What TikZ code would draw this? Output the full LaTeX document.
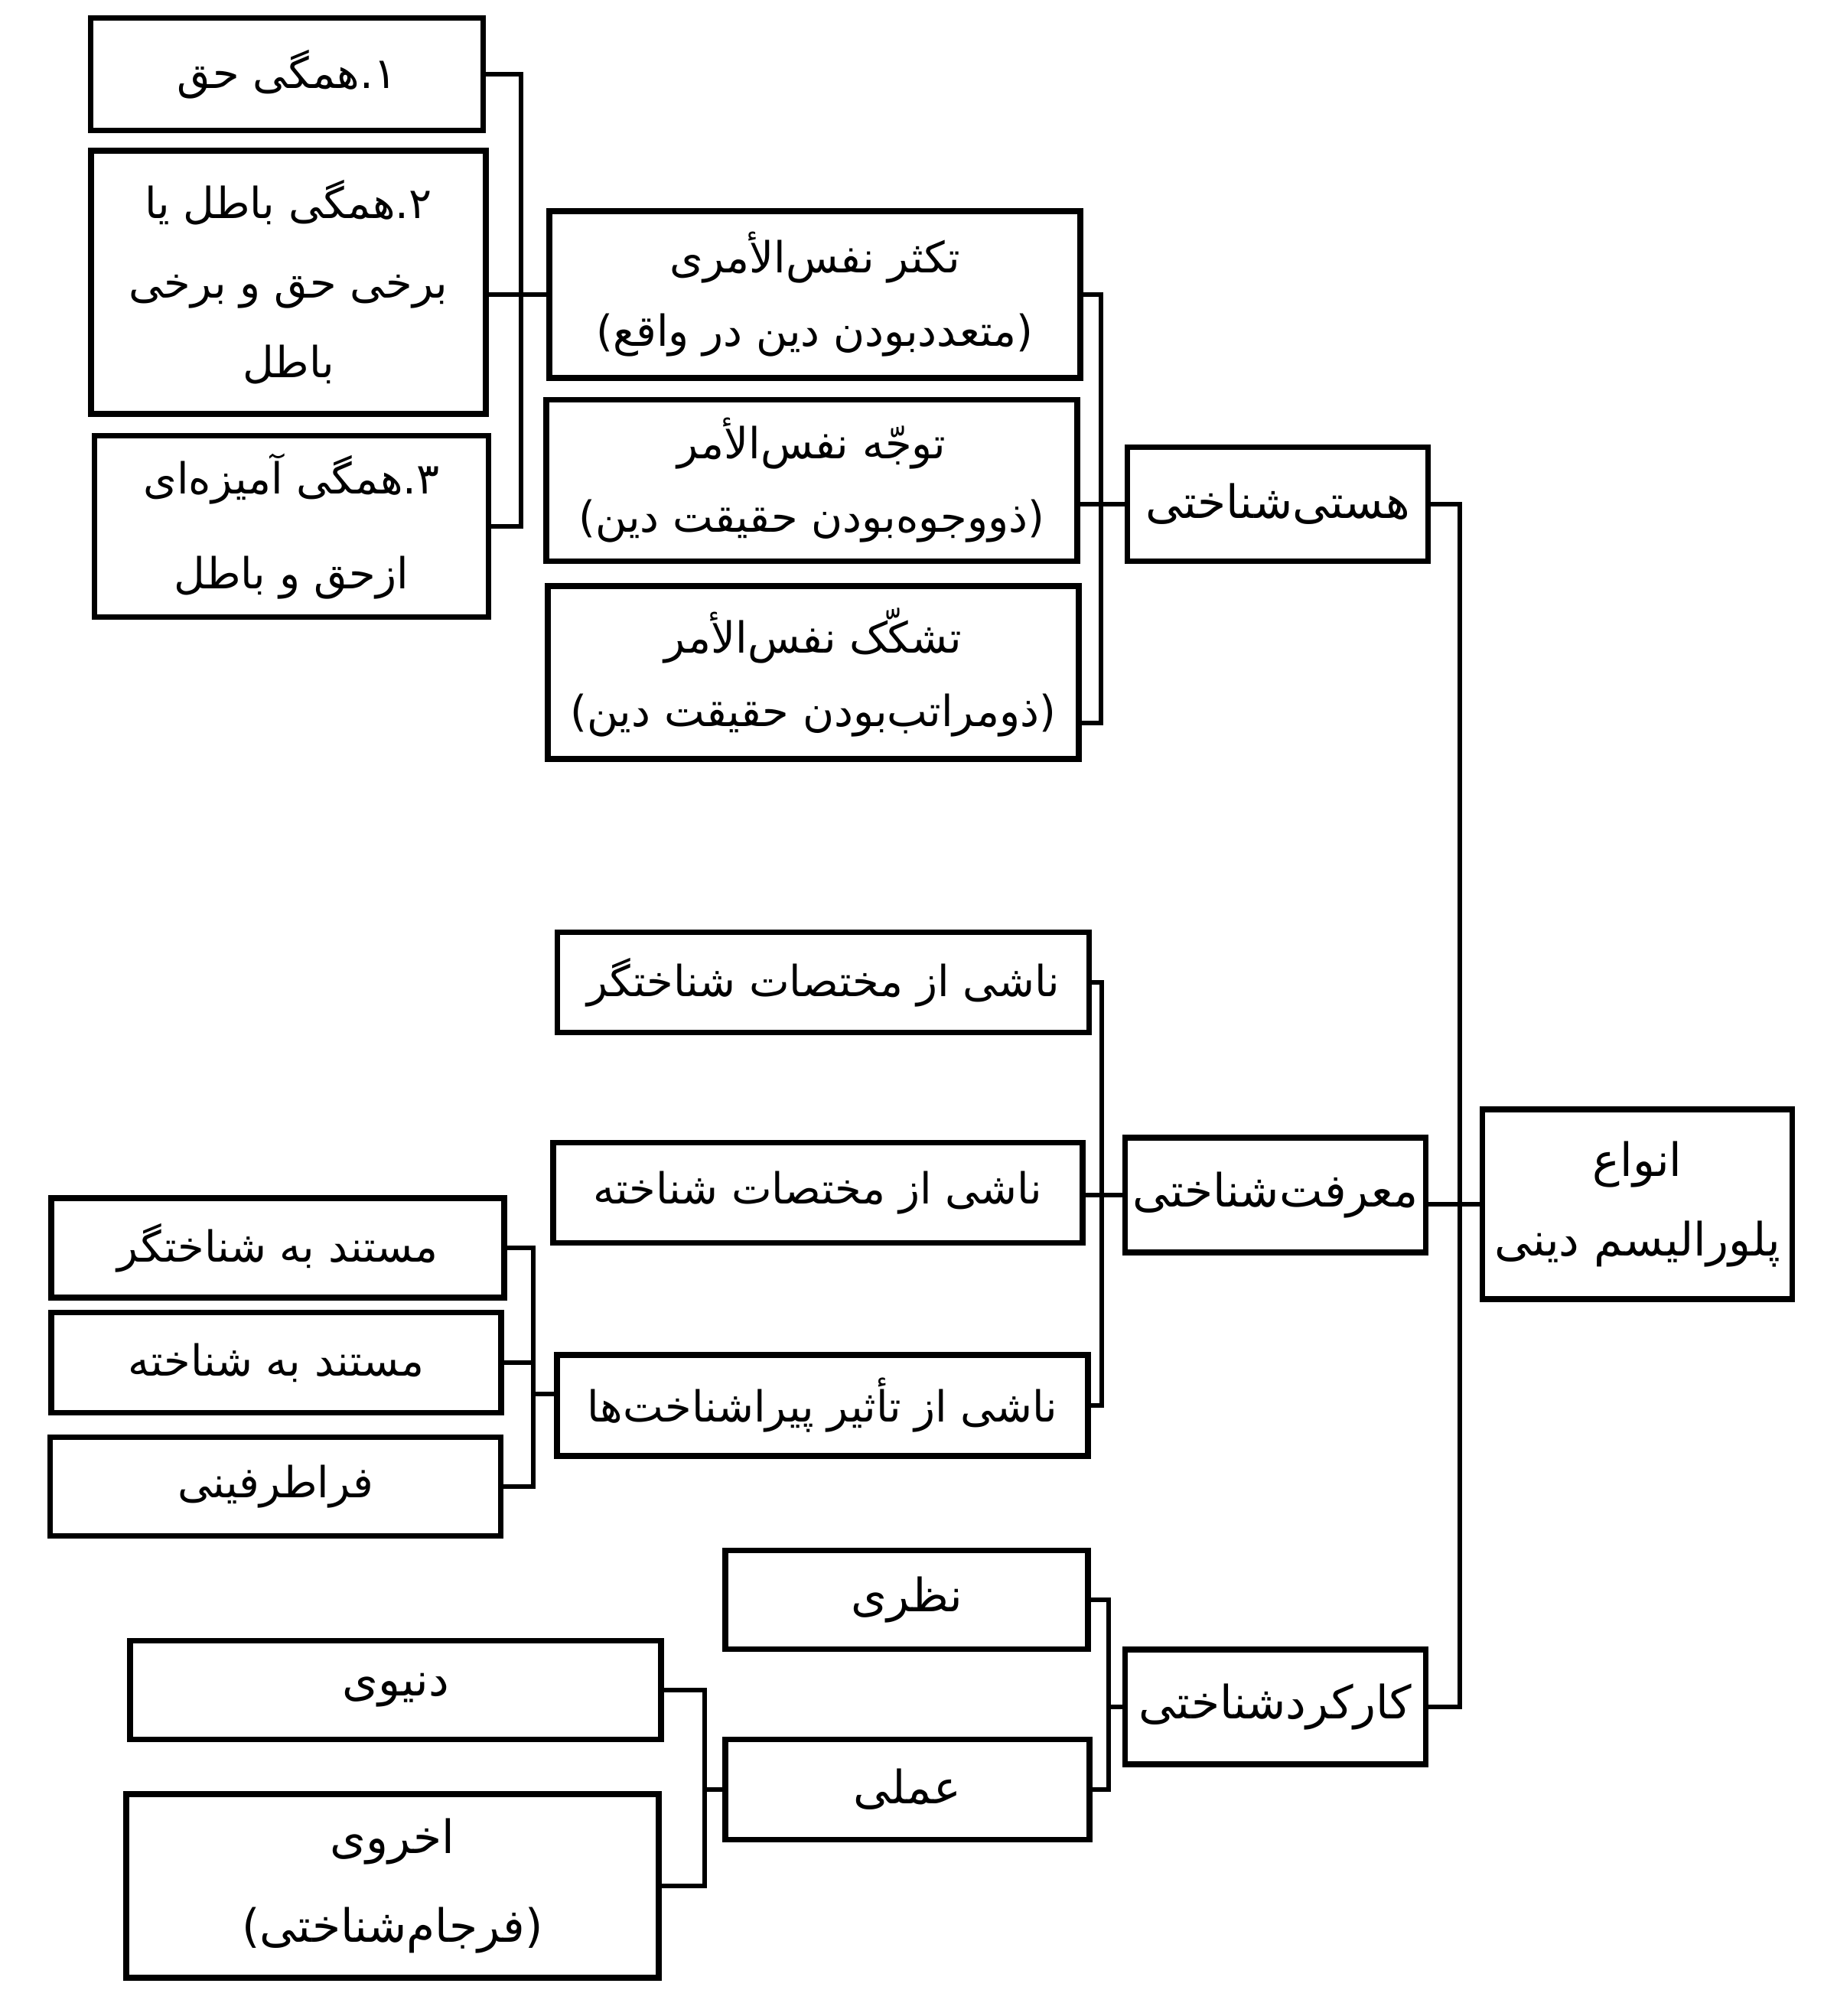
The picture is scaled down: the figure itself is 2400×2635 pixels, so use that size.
\documentclass[tikz,border=0pt]{standalone}
\usepackage{fontspec}
\usetikzlibrary{calc}
\TeXXeTstate=1
\newfontfamily\fa[Script=Arabic]{DejaVu Sans}
\newcommand{\RL}[1]{\beginR #1\endR}
\newcommand{\fs}[2]{\fa\fontsize{#1}{#2}\selectfont}
\newcommand{\num}[1]{\hbox{#1}\hbox{.}}
\newcommand{\pq}[1]{\hbox{(}#1\hbox{)}}
\begin{document}
\begin{tikzpicture}[x=0.25pt,y=-0.25pt,
  box/.style={draw,line width=1.8pt,inner sep=0pt,align=center,font=\fs{15}{26}},
  sbox/.style={box,font=\fs{14}{26}},
  conn/.style={line width=1.7pt}]
\useasboundingbox[fill=white] (0,0) rectangle (2400,2635);
% top-left column
\node[sbox,minimum width=513*0.25pt,minimum height=147*0.25pt] (A1) at (375,97) {\RL{\num{۱}همگی حق}};
\node[sbox,minimum width=516*0.25pt,minimum height=344*0.25pt] (A2) at (377,369) {\RL{\num{۲}همگی باطل یا}\\\RL{برخی حق و برخی}\\\RL{باطل}};
\node[sbox,minimum width=515*0.25pt,minimum height=237*0.25pt,font=\fs{14}{31}] (A3) at (381,688) {\RL{\num{۳}همگی آمیزه^^^^200cای}\\\RL{ازحق و باطل}};
% top middle column
\node[sbox,minimum width=694*0.25pt,minimum height=218*0.25pt,font=\fs{14}{24}] (B1) at (1065,385) {\RL{تکثر نفس^^^^200cالأمری}\\\RL{\pq{متعددبودن دین در واقع}}};
\node[sbox,minimum width=694*0.25pt,minimum height=211*0.25pt,font=\fs{14}{24}] (B2) at (1061,628) {\RL{توجّه نفس^^^^200cالأمر}\\\RL{\pq{ذووجوه^^^^200cبودن حقیقت دین}}};
\node[sbox,minimum width=694*0.25pt,minimum height=226*0.25pt,font=\fs{14}{24}] (B3) at (1063,879) {\RL{تشکّک نفس^^^^200cالأمر}\\\RL{\pq{ذومراتب^^^^200cبودن حقیقت دین}}};
% main categories
\node[box,minimum width=393*0.25pt,minimum height=149*0.25pt] (C1) at (1670,659) {\RL{هستی^^^^200cشناختی}};
\node[box,minimum width=393*0.25pt,minimum height=150*0.25pt] (C2) at (1667,1562) {\RL{معرفت^^^^200cشناختی}};
\node[box,minimum width=393*0.25pt,minimum height=150*0.25pt] (C3) at (1667,2231) {\RL{کارکردشناختی}};
\node[box,minimum width=405*0.25pt,minimum height=248*0.25pt] (R) at (2140,1574) {\RL{انواع}\\\RL{پلورالیسم دینی}};
% middle column
\node[sbox,minimum width=695*0.25pt,minimum height=131*0.25pt] (M1) at (1076,1284) {\RL{ناشی از مختصات شناختگر}};
\node[sbox,minimum width=692*0.25pt,minimum height=131*0.25pt] (M2) at (1069,1559) {\RL{ناشی از مختصات شناخته}};
\node[sbox,minimum width=694*0.25pt,minimum height=132*0.25pt] (M3) at (1075,1837) {\RL{ناشی از تأثیر پیراشناخت^^^^200cها}};
% left middle column
\node[sbox,minimum width=592*0.25pt,minimum height=130*0.25pt] (L1) at (363,1631) {\RL{مستند به شناختگر}};
\node[sbox,minimum width=588*0.25pt,minimum height=131*0.25pt] (L2) at (361,1781) {\RL{مستند به شناخته}};
\node[sbox,minimum width=589*0.25pt,minimum height=129*0.25pt] (L3) at (360,1943) {\RL{فراطرفینی}};
% bottom
\node[box,minimum width=474*0.25pt,minimum height=129*0.25pt] (K1) at (1185,2091) {\RL{نظری}};
\node[box,minimum width=476*0.25pt,minimum height=131*0.25pt] (K2) at (1186,2339) {\RL{عملی}};
\node[box,minimum width=694*0.25pt,minimum height=129*0.25pt] (D1) at (517,2209) {\RL{دنیوی}};
\node[box,minimum width=696*0.25pt,minimum height=240*0.25pt,font=\fs{15}{29}] (D2) at (513,2465) {\RL{اخروی}\\\RL{\pq{فرجام^^^^200cشناختی}}};
% bracket spines
\coordinate (bA) at (681,0);
\coordinate (bB) at (1439,0);
\coordinate (bC) at (1908,0);
\coordinate (bM) at (1440,0);
\coordinate (bL) at (697,0);
\coordinate (bK) at (1449,0);
\coordinate (bD) at (921,0);
\coordinate (B3s) at ($(B3.east)+(0,66)$);
\coordinate (M3s) at ($(M3.west)+(0,-15)$);
% connectors
\draw[conn] (A1.east) -- (A1.east -| bA) -- (A3.east -| bA) -- (A3.east);
\draw[conn] (A2.east |- B1.west) -- (B1.west);
\draw[conn] (B1.east) -- (B1.east -| bB) -- (bB |- B3s) -- (B3s);
\draw[conn] (B2.east |- C1.west) -- (C1.west);
\draw[conn] (C1.east) -- (C1.east -| bC) -- (C3.east -| bC) -- (C3.east);
\draw[conn] (C2.east |- R.west) -- (R.west);
\draw[conn] (M1.east) -- (M1.east -| bM) -- (M3.east -| bM) -- (M3.east);
\draw[conn] (M2.east |- C2.west) -- (C2.west);
\draw[conn] (L1.east) -- (L1.east -| bL) -- (L3.east -| bL) -- (L3.east);
\draw[conn] (L2.east) -- (L2.east -| bL);
\draw[conn] (bL |- M3s) -- (M3s);
\draw[conn] (K1.east) -- (K1.east -| bK) -- (K2.east -| bK) -- (K2.east);
\draw[conn] (bK |- C3.west) -- (C3.west);
\draw[conn] (D1.east) -- (D1.east -| bD) -- (D2.east -| bD) -- (D2.east);
\draw[conn] (bD |- K2.west) -- (K2.west);
\end{tikzpicture}
\end{document}
